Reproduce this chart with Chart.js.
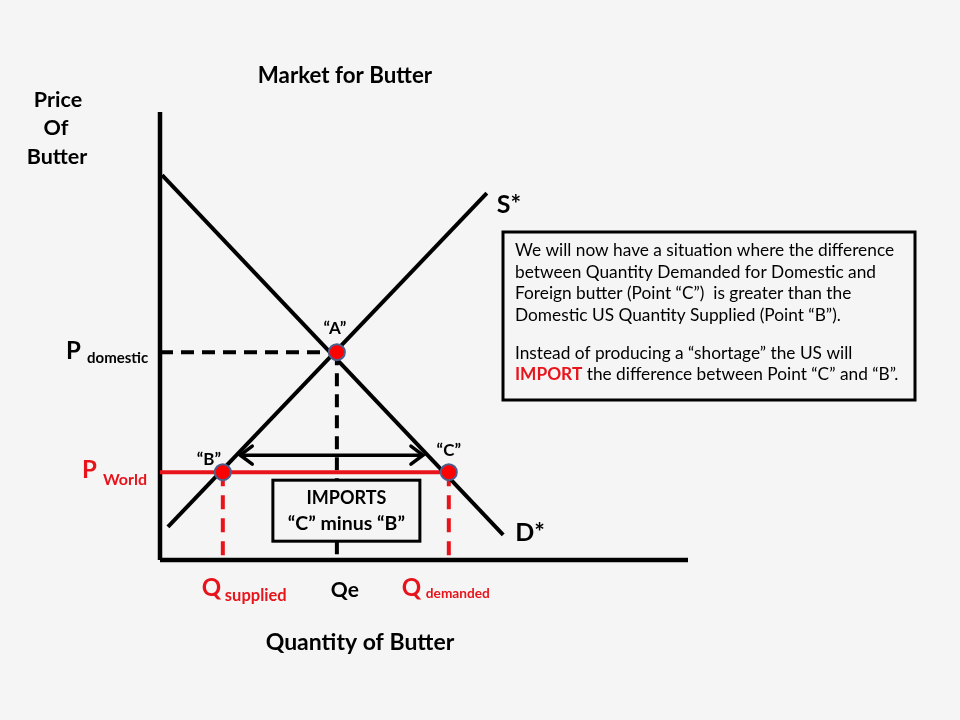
<!DOCTYPE html>
<html>
<head>
<meta charset="utf-8">
<script src="https://cdn.jsdelivr.net/npm/chart.js@4.4.1/dist/chart.umd.min.js"></script>
<style>
  html, body { margin: 0; padding: 0; background: #f6f5f5; }
  #wrap { width: 960px; height: 720px; }
</style>
</head>
<body>
<div id="wrap"><canvas id="butterChart" width="960" height="720"></canvas></div>
<script>
// ---- data (quantity 0-100 on x, price 0-100 on y) ----
const axisMax = 100;
const demandQ = [0.4, 65.0];
const demandP = [85.9, 5.6];
const supplyQ = [1.5, 61.9];
const supplyP = [7.4, 81.9];
const pointNames = ["“A”", "“B”", "“C”"];
const pointQ = [33.5, 11.9, 54.7];
const pointP = [46.4, 19.6, 19.6];
const pDomestic = 46.4;
const pWorld = 19.6;
const qe = 33.5;
const qSupplied = 11.9;
const qDemanded = 54.7;
const arrowP = 23.4;
const arrowQ = [15.2, 49.8];

const FONT = "Lato, 'Liberation Sans', sans-serif";
const RED = "#e8141b";

const xy = (qs, ps) => qs.map((q, i) => ({ x: q, y: ps[i] }));

// labels, text box, arrow heads
const overlay = {
    id: "overlay",
    afterDatasetsDraw(chart) {
        const ctx = chart.ctx;
        const xs = chart.scales.x, ys = chart.scales.y;
        const area = chart.chartArea;
        const px = v => xs.getPixelForValue(v);
        const py = v => ys.getPixelForValue(v);

        ctx.save();
        ctx.textBaseline = "middle";

        // arrow heads
        ctx.strokeStyle = "#000";
        ctx.lineWidth = 3.5;
        ctx.lineCap = "round";
        const ay = py(arrowP);
        [[px(arrowQ[0]), 1], [px(arrowQ[1]), -1]].forEach(([x, d]) => {
            ctx.beginPath();
            ctx.moveTo(x + d * 12, ay - 9);
            ctx.lineTo(x, ay);
            ctx.lineTo(x + d * 12, ay + 9);
            ctx.stroke();
        });

        // imports box
        const bx = px(qe) - 64, by = py(pWorld) + 8, bw = 147, bh = 61;
        ctx.fillStyle = "#f6f5f5";
        ctx.fillRect(bx, by, bw, bh);
        ctx.lineWidth = 3;
        ctx.strokeRect(bx, by, bw, bh);
        ctx.fillStyle = "#000";
        ctx.textAlign = "center";
        ctx.font = "bold 18px " + FONT;
        ctx.fillText("IMPORTS", bx + bw / 2, by + 18);
        ctx.font = "bold 19.5px " + FONT;
        ctx.fillText("“C” minus “B”", bx + bw / 2, by + 44);

        // point labels
        ctx.font = "bold 17px " + FONT;
        ctx.fillText(pointNames[0], px(pointQ[0]) - 2, py(pointP[0]) - 24);
        ctx.fillText(pointNames[1], px(pointQ[1]) - 14, py(pointP[1]) - 13);
        ctx.fillText(pointNames[2], px(pointQ[2]), py(pointP[2]) - 22);

        // curve labels
        ctx.font = "bold 25px " + FONT;
        ctx.textAlign = "left";
        ctx.fillText("S*", px(supplyQ[1]) + 10, py(supplyP[1]) + 12);
        ctx.fillText("D*", px(demandQ[1]) + 12, py(demandP[1]) - 2);

        // price labels
        ctx.textAlign = "left";
        ctx.font = "bold 24px " + FONT;
        ctx.fillText("P", 66, py(pDomestic) - 1);
        ctx.font = "bold 15px " + FONT;
        ctx.fillText("domestic", 87, py(pDomestic) + 6);

        ctx.fillStyle = RED;
        ctx.font = "bold 24px " + FONT;
        ctx.fillText("P", 82, py(pWorld) - 2);
        ctx.font = "bold 16px " + FONT;
        ctx.fillText("World", 103, py(pWorld) + 8);

        // quantity labels
        const ly = area.bottom + 29;
        ctx.font = "bold 24px " + FONT;
        ctx.fillText("Q", px(qSupplied) - 21, ly - 1);
        ctx.fillText("Q", px(qDemanded) - 47, ly - 1);
        ctx.font = "bold 16.5px " + FONT;
        ctx.fillText("supplied", px(qSupplied) + 2, ly + 7);
        ctx.font = "bold 13.7px " + FONT;
        ctx.fillText("demanded", px(qDemanded) - 23, ly + 5);
        ctx.fillStyle = "#000";
        ctx.textAlign = "center";
        ctx.font = "bold 21px " + FONT;
        ctx.fillText("Qe", px(qe) + 8, ly + 1);

        // titles
        ctx.font = "bold 22.3px " + FONT;
        ctx.fillText("Market for Butter", 345, 76);
        ctx.font = "bold 23px " + FONT;
        ctx.fillText("Quantity of Butter", 360, 643);
        ctx.font = "bold 21.5px " + FONT;
        ctx.fillText("Price", 58, 100);
        ctx.fillText("Of", 56, 128);
        ctx.fillText("Butter", 57, 157);

        // explanation box
        const tx = 503, ty = 232, tw = 412, th = 168;
        ctx.fillStyle = "#f6f5f5";
        ctx.fillRect(tx, ty, tw, th);
        ctx.lineWidth = 3;
        ctx.strokeRect(tx, ty, tw, th);
        ctx.fillStyle = "#000";
        ctx.textAlign = "left";
        const fs = "17.3px " + FONT;
        ctx.font = fs;
        const lines = [
            "We will now have a situation where the difference",
            "between Quantity Demanded for Domestic and",
            "Foreign butter (Point “C”)  is greater than the",
            "Domestic US Quantity Supplied (Point “B”).",
            "Instead of producing a “shortage” the US will"
        ];
        const lineY = [18, 40, 61, 83, 121, 142];
        lines.forEach((t, i) => ctx.fillText(t, tx + 12, ty + lineY[i]));
        const lastY = ty + lineY[5];
        ctx.font = "bold " + fs;
        ctx.fillStyle = RED;
        ctx.fillText("IMPORT", tx + 12, lastY);
        const iw = ctx.measureText("IMPORT").width;
        ctx.font = fs;
        ctx.fillStyle = "#000";
        ctx.fillText(" the difference between Point “C” and “B”.", tx + 12 + iw, lastY);

        ctx.restore();
    }
};

const ctx = document.getElementById("butterChart").getContext("2d");

new Chart(ctx, {
    type: "scatter",
    data: {
        datasets: [
            {   // A, B, C dots (on top)
                data: xy(pointQ, pointP),
                pointRadius: 8,
                pointBackgroundColor: "#ff0000",
                pointBorderColor: "#4b5f8f",
                pointBorderWidth: 2,
                showLine: false
            },
            {   // demand
                data: xy(demandQ, demandP),
                showLine: true, borderColor: "#000", borderWidth: 4, pointRadius: 0
            },
            {   // supply
                data: xy(supplyQ, supplyP),
                showLine: true, borderColor: "#000", borderWidth: 4, pointRadius: 0
            },
            {   // imports arrow shaft
                data: xy(arrowQ, [arrowP, arrowP]),
                showLine: true, borderColor: "#000", borderWidth: 3.5, pointRadius: 0
            },
            {   // world price
                data: xy([0, qDemanded], [pWorld, pWorld]),
                showLine: true, borderColor: RED, borderWidth: 4, pointRadius: 0
            },
            {   // Q supplied dashes
                data: xy([qSupplied, qSupplied], [pWorld, 0]),
                showLine: true, borderColor: RED, borderWidth: 4, borderDash: [14, 9], pointRadius: 0
            },
            {   // Q demanded dashes
                data: xy([qDemanded, qDemanded], [pWorld, 0]),
                showLine: true, borderColor: RED, borderWidth: 4, borderDash: [14, 9], pointRadius: 0
            },
            {   // P domestic dashes
                data: xy([0, qe], [pDomestic, pDomestic]),
                showLine: true, borderColor: "#000", borderWidth: 4, borderDash: [13, 8], pointRadius: 0
            },
            {   // Qe dashes
                data: xy([qe, qe], [pDomestic, 0]),
                showLine: true, borderColor: "#000", borderWidth: 4, borderDash: [13, 8], pointRadius: 0
            },
            {   // y axis
                data: xy([0, 0], [0, axisMax]),
                showLine: true, borderColor: "#000", borderWidth: 4.5, pointRadius: 0
            },
            {   // x axis
                data: xy([0, axisMax], [0, 0]),
                showLine: true, borderColor: "#000", borderWidth: 4.5, pointRadius: 0
            }
        ]
    },
    options: {
        responsive: false,
        animation: false,
        layout: { padding: { left: 160, right: 272, top: 112, bottom: 160 } },
        scales: {
            x: { type: "linear", min: 0, max: axisMax, display: false },
            y: { type: "linear", min: 0, max: axisMax, display: false }
        },
        datasets: { scatter: { clip: false } },
        plugins: {
            legend: { display: false },
            tooltip: { enabled: false }
        }
    },
    plugins: [overlay]
});
</script>
</body>
</html>
